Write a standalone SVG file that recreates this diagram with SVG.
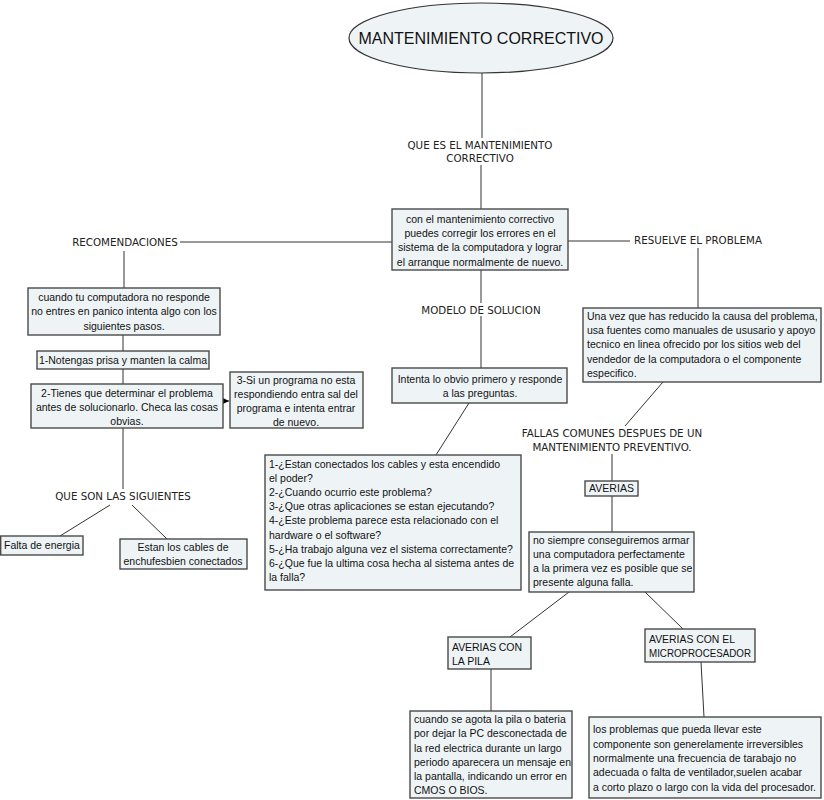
<svg xmlns="http://www.w3.org/2000/svg" width="824" height="800" viewBox="0 0 824 800">
<style>
.bx{fill:#eef4f6;stroke:#4a4a4a;stroke-width:1.4}
.t{font-family:"Liberation Sans",Arial,sans-serif;font-size:10.5px;fill:#111}
.c{text-anchor:middle}
.lb{font-family:"DejaVu Sans",Verdana,sans-serif;font-size:10.3px;fill:#222;text-anchor:middle}
.ln{stroke:#333;stroke-width:1;fill:none}
</style>
<defs>
<marker id="ah" viewBox="0 0 10 10" refX="10" refY="5" markerWidth="9" markerHeight="9" markerUnits="userSpaceOnUse" orient="auto">
<path d="M0,0 L10,5 L0,10 z" fill="#000"/>
</marker>
</defs>
<rect width="824" height="800" fill="#fff"/>
<g id="connectors">
<line class="ln" x1="482" y1="73" x2="482" y2="138"/>
<line class="ln" x1="481" y1="165" x2="481" y2="209"/>
<line class="ln" x1="392" y1="242" x2="180" y2="242"/>
<line class="ln" x1="124" y1="251" x2="124" y2="288"/>
<line class="ln" x1="123" y1="335" x2="123" y2="351"/>
<line class="ln" x1="123" y1="369" x2="123" y2="384"/>
<line class="ln" x1="223" y1="401" x2="229" y2="401" marker-end="url(#ah)"/>
<line class="ln" x1="123" y1="428" x2="123" y2="489"/>
<line class="ln" x1="110" y1="505" x2="60" y2="536"/>
<line class="ln" x1="132" y1="505" x2="167" y2="539"/>
<line class="ln" x1="568" y1="241" x2="630" y2="241"/>
<line class="ln" x1="698" y1="248" x2="698" y2="308"/>
<line class="ln" x1="481" y1="270" x2="481" y2="303"/>
<line class="ln" x1="481" y1="316" x2="481" y2="368"/>
<line class="ln" x1="469" y1="403" x2="436" y2="455"/>
<line class="ln" x1="663" y1="382" x2="625" y2="426"/>
<line class="ln" x1="612" y1="454" x2="612" y2="481"/>
<line class="ln" x1="612" y1="496" x2="612" y2="532"/>
<line class="ln" x1="569" y1="592" x2="510" y2="637"/>
<line class="ln" x1="645" y1="592" x2="683" y2="629"/>
<line class="ln" x1="491" y1="669" x2="491" y2="711"/>
<line class="ln" x1="701" y1="662" x2="704" y2="717"/>
</g>
<g id="title">
<ellipse cx="481" cy="38" rx="132" ry="35" fill="#eef4f6" stroke="#333" stroke-width="1.2"/>
<text class="t c" x="481" y="44" style="font-size:16px">MANTENIMIENTO CORRECTIVO</text>
</g>
<g id="lbl-que-es"><text class="lb" x="480" y="149">QUE ES EL MANTENIMIENTO</text><text class="lb" x="480" y="162">CORRECTIVO</text></g>
<g id="lbl-recomendaciones"><text class="lb" x="125" y="246">RECOMENDACIONES</text></g>
<g id="lbl-resuelve"><text class="lb" x="698" y="244">RESUELVE EL PROBLEMA</text></g>
<g id="lbl-modelo"><text class="lb" x="481" y="314">MODELO DE SOLUCION</text></g>
<g id="lbl-que-son"><text class="lb" x="123" y="500">QUE SON LAS SIGUIENTES</text></g>
<g id="lbl-fallas"><text class="lb" x="612" y="437">FALLAS COMUNES DESPUES DE UN</text><text class="lb" x="612" y="451">MANTENIMIENTO PREVENTIVO.</text></g>
<g id="central">
<rect class="bx" x="392" y="209" width="176" height="61"/>
<text class="t c" x="480" y="223">con el mantenimiento correctivo</text>
<text class="t c" x="480" y="237">puedes corregir los errores en el</text>
<text class="t c" x="480" y="251">sistema de la computadora y lograr</text>
<text class="t c" x="480" y="266">el arranque normalmente de nuevo.</text>
</g>
<g id="cuando-tu">
<rect class="bx" x="28" y="288" width="192" height="47"/>
<text class="t c" x="124" y="301">cuando tu computadora no responde</text>
<text class="t c" x="124" y="315">no entres en panico intenta algo con los</text>
<text class="t c" x="124" y="330">siguientes pasos.</text>
</g>
<g id="paso1">
<rect class="bx" x="37" y="351" width="172" height="18"/>
<text class="t c" x="123" y="364">1-Notengas prisa y manten la calma</text>
</g>
<g id="paso2">
<rect class="bx" x="31" y="384" width="192" height="44"/>
<text class="t c" x="127" y="397">2-Tienes que determinar el problema</text>
<text class="t c" x="127" y="411">antes de solucionarlo. Checa las cosas</text>
<text class="t c" x="127" y="425">obvias.</text>
</g>
<g id="paso3">
<rect class="bx" x="230" y="372" width="133" height="56"/>
<text class="t c" x="296" y="384">3-Si un programa no esta</text>
<text class="t c" x="296" y="398">respondiendo entra sal del</text>
<text class="t c" x="296" y="412">programa e intenta entrar</text>
<text class="t c" x="296" y="426">de nuevo.</text>
</g>
<g id="falta">
<rect class="bx" x="0.7" y="536" width="82.3" height="19"/>
<text class="t" x="4" y="549">Falta de energia</text>
</g>
<g id="estan">
<rect class="bx" x="120" y="539" width="127" height="30"/>
<text class="t c" x="183" y="551">Estan los cables de</text>
<text class="t c" x="183" y="565">enchufesbien conectados</text>
</g>
<g id="intenta">
<rect class="bx" x="392" y="368" width="175" height="35"/>
<text class="t c" x="480" y="383">Intenta lo obvio primero y responde</text>
<text class="t c" x="480" y="397">a las preguntas.</text>
</g>
<g id="preguntas">
<rect class="bx" x="265" y="455" width="256" height="135"/>
<text class="t" x="269" y="468">1-¿Estan conectados los cables y esta encendido</text>
<text class="t" x="269" y="482">el poder?</text>
<text class="t" x="269" y="496">2-¿Cuando ocurrio este problema?</text>
<text class="t" x="269" y="510">3-¿Que otras aplicaciones se estan ejecutando?</text>
<text class="t" x="269" y="524">4-¿Este problema parece esta relacionado con el</text>
<text class="t" x="269" y="539">hardware o el software?</text>
<text class="t" x="269" y="553">5-¿Ha trabajo alguna vez el sistema correctamente?</text>
<text class="t" x="269" y="567">6-¿Que fue la ultima cosa hecha al sistema antes de</text>
<text class="t" x="269" y="581">la falla?</text>
</g>
<g id="una-vez">
<rect class="bx" x="583" y="308" width="238" height="74"/>
<text class="t" x="587" y="320">Una vez que has reducido la causa del problema,</text>
<text class="t" x="587" y="334">usa fuentes como manuales de ususario y apoyo</text>
<text class="t" x="587" y="348">tecnico en linea ofrecido por los sitios web del</text>
<text class="t" x="587" y="363">vendedor de la computadora o el componente</text>
<text class="t" x="587" y="377">especifico.</text>
</g>
<g id="averias">
<rect class="bx" x="585" y="481" width="53" height="15"/>
<text class="t" x="589" y="492" textLength="45">AVERIAS</text>
</g>
<g id="no-siempre">
<rect class="bx" x="529" y="532" width="165" height="60"/>
<text class="t" x="533" y="544">no siempre conseguiremos armar</text>
<text class="t" x="533" y="558">una computadora perfectamente</text>
<text class="t" x="533" y="572">a la primera vez es posible que se</text>
<text class="t" x="533" y="586">presente alguna falla.</text>
</g>
<g id="pila">
<rect class="bx" x="448" y="637" width="83" height="32"/>
<text class="t" x="452" y="651" textLength="70">AVERIAS CON</text>
<text class="t" x="452" y="665">LA PILA</text>
</g>
<g id="micro">
<rect class="bx" x="645" y="629" width="110" height="33"/>
<text class="t" x="649" y="643" textLength="86" lengthAdjust="spacingAndGlyphs">AVERIAS CON EL</text>
<text class="t" x="649" y="657" textLength="102" lengthAdjust="spacingAndGlyphs">MICROPROCESADOR</text>
</g>
<g id="agota">
<rect class="bx" x="410" y="711" width="162" height="87"/>
<text class="t" x="414" y="723">cuando se agota la pila o bateria</text>
<text class="t" x="414" y="737">por dejar la PC desconectada de</text>
<text class="t" x="414" y="752">la red electrica durante un largo</text>
<text class="t" x="414" y="766">periodo aparecera un mensaje en</text>
<text class="t" x="414" y="780">la pantalla, indicando un error en</text>
<text class="t" x="414" y="794">CMOS O BIOS.</text>
</g>
<g id="problemas">
<rect class="bx" x="589" y="717" width="232" height="81"/>
<text class="t" x="593" y="733">los problemas que pueda llevar este</text>
<text class="t" x="593" y="748">componente son generelamente irreversibles</text>
<text class="t" x="593" y="762">normalmente una frecuencia de tarabajo no</text>
<text class="t" x="593" y="776">adecuada o falta de ventilador,suelen acabar</text>
<text class="t" x="593" y="791">a corto plazo o largo con la vida del procesador.</text>
</g>
</svg>
